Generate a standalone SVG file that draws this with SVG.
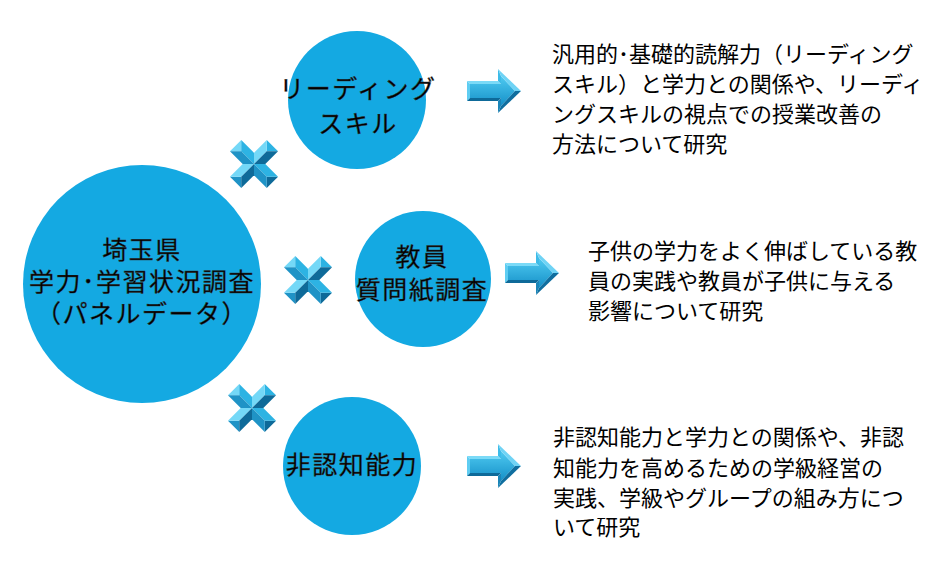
<svg xmlns="http://www.w3.org/2000/svg" xmlns:xlink="http://www.w3.org/1999/xlink" width="946" height="571" viewBox="0 0 946 571">
<style>
.node{fill:#14a9e2}
.ct{font-family:"Noto Sans CJK JP","Noto Sans",sans-serif;font-size:25px;letter-spacing:1.5px;fill:#000;stroke:#3a3a3a;stroke-width:0.4;text-anchor:middle;dominant-baseline:central}
.rt{font-family:"Noto Sans CJK JP","Noto Sans",sans-serif;font-size:22px;fill:#000;dominant-baseline:central}
.lt{fill:#74d8f7}.md{fill:#2db3e3}.md2{fill:#1f93c6}.dk{fill:#0e6a99}
</style>
<defs>
<linearGradient id="af" x1="0" y1="0" x2="0" y2="1">
<stop offset="0" stop-color="#4fcaf1"/>
<stop offset="1" stop-color="#1590c8"/>
</linearGradient>
<g id="arrow">
<polygon points="3,-7 34,-7 34,-15 48,0 34,15 34,7 3,7" fill="url(#af)"/>
<polygon points="0,-10 31,-10 34,-7 3,-7" fill="#7bdaf7"/>
<polygon points="0,-10 3,-7 3,7 0,10" fill="#5fcdf2"/>
<polygon points="0,10 3,7 34,7 31,10" fill="#0e6a99"/>
<polygon points="31,-10 31,-22 34,-15 34,-7" fill="#3dbbe8"/>
<polygon points="31,-22 54,0 48,0 34,-15" fill="#6fd3f5"/>
<polygon points="54,0 31,22 34,15 48,0" fill="#0f6e9f"/>
<polygon points="31,22 31,10 34,7 34,15" fill="#1a85b8"/>
</g>
<g id="cross">
<g transform="rotate(45)">
<polygon class="md" points="-8,-26 8,-26 0,-18"/>
<polygon class="lt" points="-8,-26 0,-18 0,0 -8,-8"/>
<polygon class="dk" points="8,-26 8,-8 0,0 0,-18"/>
<polygon class="lt" points="-26,-8 -26,8 -18,0"/>
<polygon class="md" points="-26,-8 -18,0 0,0 -8,-8"/>
<polygon class="md2" points="-26,8 -8,8 0,0 -18,0"/>
<polygon class="dk" points="26,-8 26,8 18,0"/>
<polygon class="md" points="26,-8 8,-8 0,0 18,0"/>
<polygon class="md2" points="26,8 18,0 0,0 8,8"/>
<polygon class="md2" points="-8,26 8,26 0,18"/>
<polygon class="lt" points="-8,26 -8,8 0,0 0,18"/>
<polygon class="dk" points="8,26 0,18 0,0 8,8"/>
</g>
</g>
</defs>
<rect width="946" height="571" fill="#fff"/>
<g id="connectors">
<use xlink:href="#cross" href="#cross" transform="translate(254,164)"/>
<use xlink:href="#cross" href="#cross" transform="translate(308,280)"/>
<use xlink:href="#cross" href="#cross" transform="translate(252,408)"/>
<use xlink:href="#arrow" href="#arrow" transform="translate(467,91)"/>
<use xlink:href="#arrow" href="#arrow" transform="translate(505,273)"/>
<use xlink:href="#arrow" href="#arrow" transform="translate(467,466)"/>
</g>
<g id="node-main">
<circle class="node" cx="142" cy="284" r="119"/>
<text class="ct" x="142" y="248">埼玉県</text>
<text class="ct" x="142" y="280">学力･学習状況調査</text>
<text class="ct" x="142" y="312">（パネルデータ）</text>
</g>
<g id="node-reading">
<circle class="node" cx="357" cy="100" r="69"/>
<text class="ct" x="358" y="87">リーディング</text>
<text class="ct" x="358" y="122">スキル</text>
</g>
<g id="node-teacher">
<circle class="node" cx="423" cy="279" r="68"/>
<text class="ct" x="422" y="255">教員</text>
<text class="ct" x="422" y="288">質問紙調査</text>
</g>
<g id="node-noncog">
<circle class="node" cx="352" cy="466" r="69"/>
<text class="ct" x="352" y="463">非認知能力</text>
</g>
<g id="text-reading">
<text class="rt" x="552" y="52">汎用的･基礎的読解力（リーディング</text>
<text class="rt" x="552" y="82">スキル）と学力との関係や、リーディ</text>
<text class="rt" x="552" y="112">ングスキルの視点での授業改善の</text>
<text class="rt" x="552" y="142">方法について研究</text>
</g>
<g id="text-teacher">
<text class="rt" x="588" y="249">子供の学力をよく伸ばしている教</text>
<text class="rt" x="588" y="279">員の実践や教員が子供に与える</text>
<text class="rt" x="588" y="309">影響について研究</text>
</g>
<g id="text-noncog">
<text class="rt" x="553" y="435">非認知能力と学力との関係や、非認</text>
<text class="rt" x="553" y="466">知能力を高めるための学級経営の</text>
<text class="rt" x="553" y="496">実践、学級やグループの組み方につ</text>
<text class="rt" x="553" y="525">いて研究</text>
</g>
</svg>
